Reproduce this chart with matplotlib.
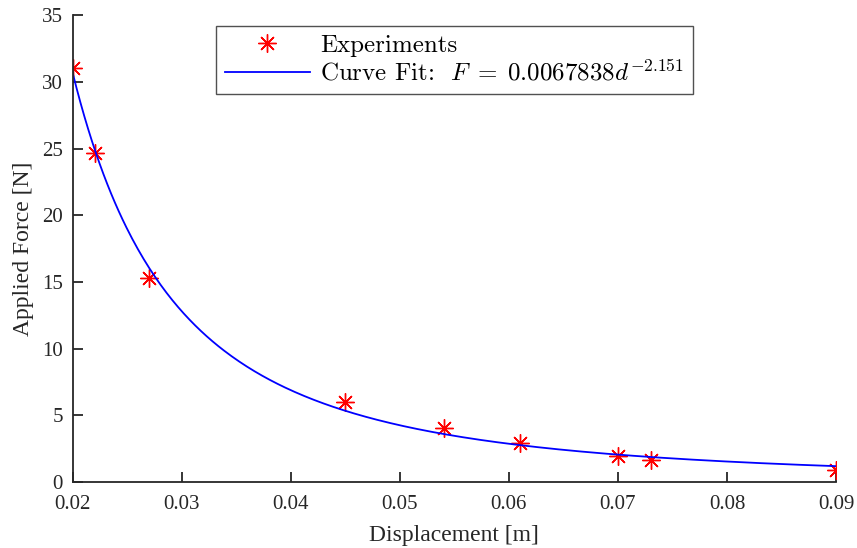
import numpy as np
import matplotlib
matplotlib.use('Agg')
import matplotlib.pyplot as plt

disp = [0.020, 0.022, 0.027, 0.045, 0.054, 0.061, 0.070, 0.073, 0.090]
force = [31.0, 24.7, 15.3, 6.0, 4.1, 2.95, 2.0, 1.7, 0.9]

# Power-law fit given in the legend: F = a * d^b
fit_a = 0.0067838
fit_b = -2.151

x_ticks = [0.02, 0.03, 0.04, 0.05, 0.06, 0.07, 0.08, 0.09]
y_ticks = [0, 5, 10, 15, 20, 25, 30, 35]

plt.rcParams['font.family'] = ['Liberation Serif', 'DejaVu Serif']
plt.rcParams['mathtext.fontset'] = 'cm'

axis_col = '#262626'

fig = plt.figure(figsize=(8.57, 5.48), dpi=100)
ax = fig.add_axes([0.085, 0.120, 0.8905, 0.8526])

d_fit = np.linspace(min(disp), max(disp), 400)
ax.plot(disp, force, linestyle='none', marker=(8, 2, 0), markersize=13,
        markeredgewidth=1.0, color='#ff0000', label='Experiments')
ax.plot(d_fit, fit_a * d_fit ** fit_b, color='#0000ff', linewidth=1.3,
        label=r'Curve Fit:  $F\;=\;0.0067838d^{-2.151}$')

ax.set_xlim(0.02, 0.09)
ax.set_ylim(0, 35)
ax.set_xticks(x_ticks)
ax.set_xticklabels([f'{t:g}' for t in x_ticks])
ax.set_yticks(y_ticks)

for side in ['top', 'right']:
    ax.spines[side].set_visible(False)
for side in ['left', 'bottom']:
    ax.spines[side].set_color(axis_col)
    ax.spines[side].set_linewidth(1.3)

ax.tick_params(direction='in', length=7, width=1.3, color=axis_col,
               labelcolor=axis_col, labelsize=15)
ax.tick_params(axis='x', pad=9)
ax.tick_params(axis='y', pad=7)

ax.set_xlabel('Displacement [m]', fontsize=17, color=axis_col, labelpad=8)
ax.set_ylabel('Applied Force [N]', fontsize=17, color=axis_col, labelpad=6)

leg = ax.legend(loc='upper center', bbox_to_anchor=(0.5, 0.977),
                prop={'family': 'cmr10', 'size': 18},
                frameon=True, fancybox=False, handlelength=3.4,
                borderpad=0.35, labelspacing=0.1, handletextpad=0.4,
                borderaxespad=0.0)
leg.get_frame().set_edgecolor(axis_col)
leg.get_frame().set_linewidth(1.0)

fig.savefig('out.png', dpi=100)
plt.close(fig)
